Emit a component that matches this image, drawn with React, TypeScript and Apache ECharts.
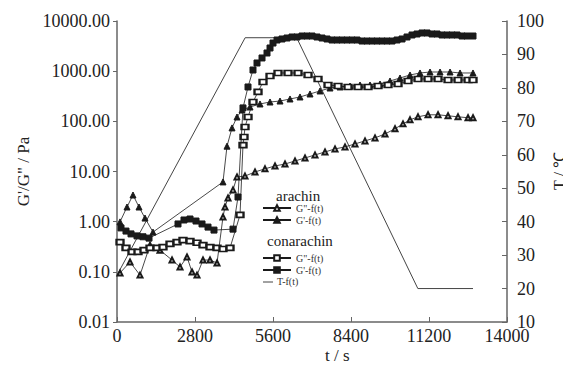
import React, { useEffect, useRef } from 'react';
import * as echarts from 'echarts';

// ---- data (t in s) ----
const xTicks = [0, 2800, 5600, 8400, 11200, 14000];

// arachin G'' (open markers)
const araGppTime = [108, 467, 826, 1185, 1544, 1975, 2262, 2513, 2693, 2872, 3087, 3339, 3590, 3805, 3877, 3985, 4164, 4308,
  4595, 4954, 5313, 5672, 6031, 6390, 6749, 7108, 7467, 7826, 8185, 8544, 8903, 9262, 9621, 9980, 10267, 10519, 10806,
  11165, 11524, 11883, 12242, 12601, 12780];
const araGppVal = [0.095, 0.157, 0.086, 0.34, 0.27, 0.172, 0.125, 0.198, 0.099, 0.086, 0.172, 0.172, 0.15, 1.24, 1.96, 2.97, 4.3, 7.8,
  8.1, 9.8, 11.3, 12.9, 14.1, 16.2, 18.6, 21.4, 24.5, 28.2, 30.9, 35.5, 40.7, 46.8, 56, 71, 89, 107, 123,
  135, 135, 129, 123, 118, 118];

// arachin G' (filled triangles)
const araGpTime = [108, 359, 574, 790, 1005, 1292, 3805, 3949, 4129, 4308,
  4488, 4775, 5134, 5493, 5852, 6211, 6570, 6929, 7288, 7647, 8006, 8365, 8724, 9083, 9442, 9801, 10160, 10519, 10878,
  11237, 11596, 11955, 12314, 12780];
const araGpVal = [0.99, 1.96, 3.4, 1.96, 1.18, 0.62, 6.2, 32, 74, 122,
  168, 193, 222, 243, 254, 279, 306, 351, 403, 462, 484, 506, 530, 530, 555, 637, 731, 839, 920,
  962, 962, 962, 920, 920];

// conarachin G'' (open squares)
const conGppTime = [108, 323, 539, 754, 969, 1185, 1436, 1651, 1903, 2154, 2369, 2621, 2872, 3087, 3339, 3590, 3805, 4057,
  4416, 4523, 4559, 4595, 4703, 4882, 5062, 5241, 5493, 5780, 6139, 6498, 6857, 7216, 7575, 7934, 8293, 8652, 9011,
  9370, 9729, 10088, 10447, 10806, 11165, 11524, 11883, 12242, 12601, 12780];
const conGppVal = [0.39, 0.3, 0.25, 0.25, 0.27, 0.3, 0.3, 0.31, 0.36, 0.39, 0.43, 0.41, 0.38, 0.34, 0.31, 0.3, 0.285, 0.3,
  1.36, 33.7, 48.7, 77, 122, 243, 385, 609, 802, 920, 920, 920, 839, 698, 530, 506, 484, 484, 484,
  506, 530, 555, 637, 698, 698, 698, 667, 667, 667, 667];

// conarachin G' (filled squares)
const conGpTime = [144, 323, 503, 718, 933, 1149, 2190, 2405, 2621, 2836, 3052, 3267, 3482, 4164, 4344, 4523, 4703, 4882,
  5026, 5206, 5385, 5493, 5600, 5744, 5924, 6103, 6283, 6462, 6642, 6821, 7001, 7180, 7360, 7539, 7719, 7898, 8078,
  8257, 8437, 8616, 8796, 8975, 9155, 9334, 9514, 9693, 9873, 10052, 10232, 10411, 10591, 10770, 10950, 11129, 11309,
  11488, 11668, 11847, 12027, 12206, 12386, 12565, 12780];
const conGpVal = [0.75, 0.65, 0.57, 0.52, 0.5, 0.47, 0.9, 1.08, 1.13, 1.03, 0.9, 0.78, 0.68, 0.71, 3.1, 185, 484, 1055,
  1455, 1832, 2303, 2898, 3640, 4180, 4380, 4580, 4800, 4800, 5020, 5020, 5020, 4800, 4580, 4380, 4180, 4180, 4180,
  4180, 4180, 4180, 3990, 3990, 3990, 3990, 3990, 3990, 3990, 4180, 4380, 4800, 5260, 5510, 5770, 5770, 5510,
  5510, 5260, 5260, 5260, 5260, 5020, 5020, 5020];

// temperature program
const tempTime = [0, 4600, 6450, 10800, 12780];
const tempVal = [24, 95, 95, 20, 20];

const zip = (a: number[], b: number[]) => a.map((t, i) => [t, b[i]]);

const FONT = "'Liberation Serif', 'Times New Roman', serif";
const AXIS = '#666';
const INK = '#1a1a1a';

export default function App() {
  const ref = useRef<HTMLDivElement>(null);
  useEffect(() => {
    if (!ref.current) return;
    const chart = echarts.init(ref.current, undefined, { renderer: 'svg' });
    const lineSeries = (name: string, data: number[][], symbol: string, size: any, z: number) => ({
      name,
      type: 'line',
      data,
      yAxisIndex: 0,
      symbol,
      symbolSize: size,
      showAllSymbol: true,
      lineStyle: { color: INK, width: 0.8 },
      itemStyle: { color: INK, borderColor: INK, borderWidth: 1 },
      z,
    });
    const legendText = { fontFamily: FONT, fontSize: 10, color: '#333', lineHeight: 12 };
    chart.setOption({
      animation: false,
      backgroundColor: '#fff',
      grid: { left: 117, right: 64, top: 21, bottom: 50, outerBoundsMode: 'none', containLabel: false },
      xAxis: {
        type: 'value', min: 0, max: 14000, interval: 2800,
        axisLine: { lineStyle: { color: AXIS, width: 1.5 } },
        axisTick: { inside: true, length: 5, lineStyle: { color: AXIS } },
        axisLabel: { fontFamily: FONT, fontSize: 18, color: '#222', margin: 5,
          formatter: (v: number) => (xTicks.includes(v) ? String(v) : '') },
        splitLine: { show: false },
      },
      yAxis: [
        {
          type: 'log', logBase: 10, min: 0.01, max: 10000, splitNumber: 6,
          name: 'G\'/G" / Pa', nameLocation: 'middle', nameGap: 85, nameRotate: 90,
          nameTextStyle: { fontFamily: FONT, fontSize: 17, color: '#222' },
          axisLine: { show: true, lineStyle: { color: AXIS, width: 1.5 } },
          axisTick: { show: true, inside: false, length: 4, lineStyle: { color: AXIS } },
          minorTick: { show: false },
          axisLabel: { fontFamily: FONT, fontSize: 18, color: '#222', margin: 7,
            formatter: (v: number) => Number(v).toFixed(2) },
          splitLine: { show: false },
        },
        {
          type: 'value', min: 10, max: 100, interval: 10, position: 'right',
          axisLine: { show: true, lineStyle: { color: AXIS, width: 1.5 } },
          axisTick: { show: true, inside: true, length: 5, lineStyle: { color: AXIS } },
          axisLabel: { fontFamily: FONT, fontSize: 18, color: '#222', margin: 10 },
          splitLine: { show: false },
        },
      ],
      legend: [
        {
          data: ['arachin G"-f(t)', "arachin G'-f(t)"],
          orient: 'vertical', left: 262, top: 202, padding: 0, itemGap: 0,
          itemWidth: 28, itemHeight: 7,
          formatter: (n: string) => n.replace(/^arachin /, ''),
          textStyle: legendText,
        },
        {
          data: ['conarachin G"-f(t)', "conarachin G'-f(t)"],
          orient: 'vertical', left: 262, top: 252, padding: 0, itemGap: 0,
          itemWidth: 28, itemHeight: 7,
          formatter: (n: string) => n.replace(/^conarachin /, ''),
          textStyle: legendText,
        },
      ],
      graphic: [
        { type: 'text', left: 276, top: 188, style: { text: 'arachin', font: `15px ${FONT}`, fill: '#222' } },
        { type: 'text', left: 267, top: 233, style: { text: 'conarachin', font: `15px ${FONT}`, fill: '#222' } },
        { type: 'line', shape: { x1: 263, y1: 282, x2: 273, y2: 282 }, style: { stroke: '#444', lineWidth: 1 } },
        { type: 'text', left: 277, top: 276, style: { text: 'T-f(t)', font: `10px ${FONT}`, fill: '#333' } },
        { type: 'text', left: 325, top: 347, style: { text: 't / s', font: `17px ${FONT}`, fill: '#222' } },
        { type: 'text', x: 559, y: 171, rotation: Math.PI / 2, style: { text: 'T / ℃', font: `16px ${FONT}`, fill: '#222', align: 'center', verticalAlign: 'middle' } },
      ],
      series: [
        {
          name: 'T-f(t)', type: 'line', yAxisIndex: 1, data: zip(tempTime, tempVal),
          symbol: 'none', lineStyle: { color: '#444', width: 1 }, itemStyle: { color: '#444' }, z: 1,
        },
        lineSeries('arachin G"-f(t)', zip(araGppTime, araGppVal), 'emptyTriangle', 5, 2),
        lineSeries("arachin G'-f(t)", zip(araGpTime, araGpVal), 'triangle', 6, 3),
        lineSeries('conarachin G"-f(t)', zip(conGppTime, conGppVal), 'emptyRect', [7, 5], 4),
        lineSeries("conarachin G'-f(t)", zip(conGpTime, conGpVal), 'rect', 6, 5),
      ],
    });
    return () => chart.dispose();
  }, []);
  return <div ref={ref} style={{ width: 571, height: 372, margin: -8 }} />;
}
